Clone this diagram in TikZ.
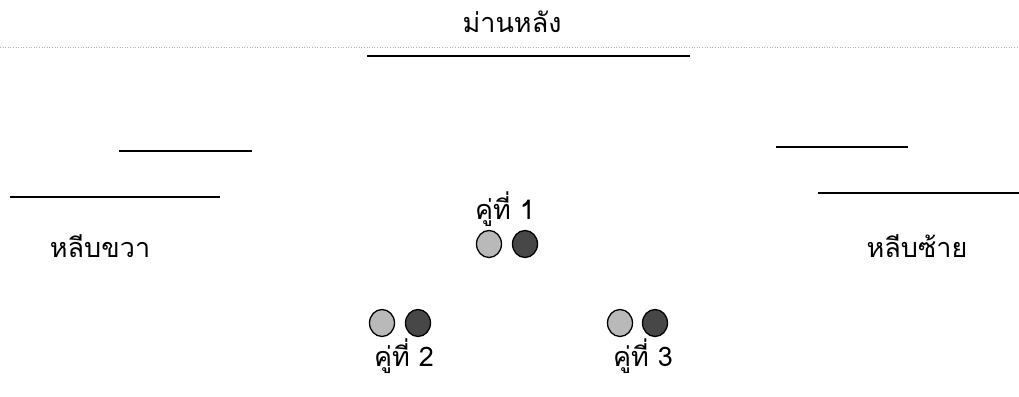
\documentclass[tikz,border=0pt]{standalone}
\usepackage{fontspec}
\newfontfamily\thaifont[Script=Thai]{Loma}
\usetikzlibrary{shapes.geometric}
\tikzset{
  txt/.style={font=\thaifont\fontsize{27}{30}\selectfont, inner sep=0pt},
  bar/.style={line width=1.4pt, black},
  lightdot/.style={ellipse, draw=black, line width=1.3pt, fill=gray!55, minimum width=25pt, minimum height=27pt, inner sep=0pt},
  darkdot/.style={ellipse, draw=black, line width=1.3pt, fill=black!72, minimum width=25pt, minimum height=27pt, inner sep=0pt}
}
\begin{document}
\begin{tikzpicture}[x=1pt,y=-1pt]
\useasboundingbox (0,0) rectangle (1019,396);
% title
\node[txt] (title) at (512,22) {ม่านหลัง};
\coordinate (dl) at (0,47);
\coordinate (dr) at (1019,47);
\draw[gray!60, line width=0.6pt, dotted] (dl) -- (dr);
\coordinate (ul) at (367,56);
\coordinate (ur) at (690,56);
\draw[bar] (ul) -- (ur);
% left wing lines
\coordinate (l1a) at (119,151);
\coordinate (l1b) at (252,151);
\coordinate (l2a) at (10,197);
\coordinate (l2b) at (220,197);
\draw[bar] (l1a) -- (l1b);
\draw[bar] (l2a) -- (l2b);
% right wing lines
\coordinate (r1a) at (776,147);
\coordinate (r1b) at (908,147);
\coordinate (r2a) at (818,193);
\coordinate (r2b) at (1019,193);
\draw[bar] (r1a) -- (r1b);
\draw[bar] (r2a) -- (r2b);
% wing labels
\node[txt] (right) at (100,246) {หลีบขวา};
\node[txt] (left) at (917,246) {หลีบซ้าย};
% pair 1
\node[txt] (p1) at (505,209) {คู่ที่ 1};
\node[lightdot] (p1a) at (489,244) {};
\node[darkdot] (p1b) at (525,244) {};
% pair 2
\node[lightdot] (p2a) at (382,323) {};
\node[darkdot] (p2b) at (418,323) {};
\node[txt] (p2) at (404,356) {คู่ที่ 2};
% pair 3
\node[lightdot] (p3a) at (620,323) {};
\node[darkdot] (p3b) at (655,323) {};
\node[txt] (p3) at (643,356) {คู่ที่ 3};
\end{tikzpicture}
\end{document}
